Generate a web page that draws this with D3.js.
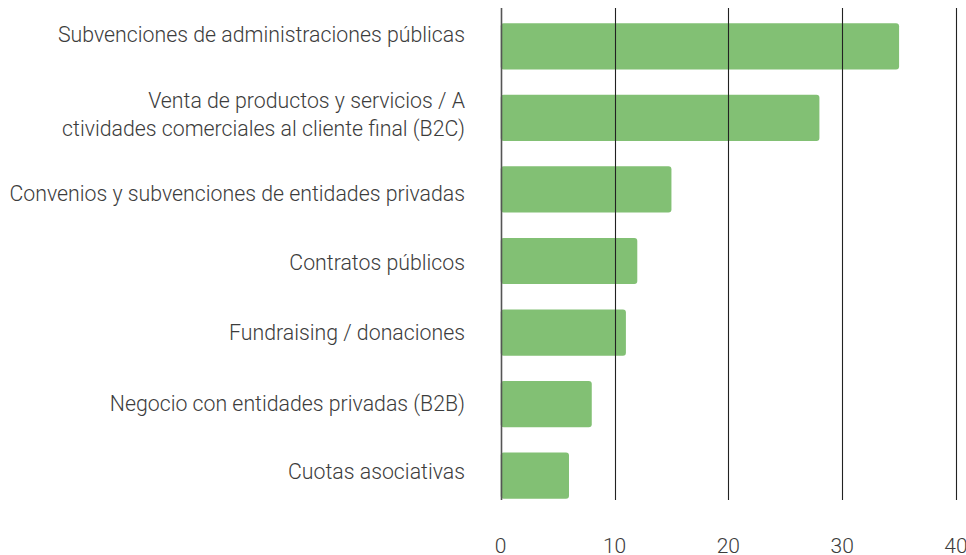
<!DOCTYPE html>
<html>
<head>
<meta charset="utf-8">
<script src="https://cdn.jsdelivr.net/npm/d3@7"></script>
<style>
  body { margin: 0; background: #fff; }
  svg { display: block; }
  .label, .tick-label { font-family: Roboto, sans-serif; font-weight: 300; fill: #3c3c3c; }
</style>
</head>
<body>
<script>
  const categories = [
    ["Subvenciones de administraciones públicas"],
    ["Venta de productos y servicios / A", "ctividades comerciales al cliente final (B2C)"],
    ["Convenios y subvenciones de entidades privadas"],
    ["Contratos públicos"],
    ["Fundraising / donaciones"],
    ["Negocio con entidades privadas (B2B)"],
    ["Cuotas asociativas"]
  ];
  const values = [35, 28, 15, 12, 11, 8, 6];
  const ticks = [0, 10, 20, 30, 40];

  // label nudges (px) so the text sits where the original puts it
  const labelShift = [-12, -3.5, 4.5, 2, 0.5, -1, -4.5];

  var width = 966;
  var height = 555;

  var x = d3.scaleLinear().domain([0, 40]).range([500.7, 956]);
  var y = d3
    .scaleBand()
    .domain(d3.range(categories.length))
    .range([23.3, 498.7])
    .paddingInner(0.354)
    .paddingOuter(0);

  var svg = d3
    .select("body")
    .append("svg")
    .attr("width", width)
    .attr("height", height);

  // bars
  svg
    .selectAll(".bar")
    .data(values)
    .enter()
    .append("rect")
    .attr("class", "bar")
    .attr("x", x(0))
    .attr("y", (d, i) => y(i))
    .attr("width", (d) => x(d) - x(0))
    .attr("height", y.bandwidth())
    .attr("rx", 3)
    .style("fill", "#82c074");

  // gridlines
  svg
    .selectAll(".grid")
    .data(ticks)
    .enter()
    .append("line")
    .attr("class", "grid")
    .attr("x1", (d) => Math.round(x(d)) + 0.5)
    .attr("x2", (d) => Math.round(x(d)) + 0.5)
    .attr("y1", 8)
    .attr("y2", 500)
    .style("stroke", (d) => (d === 0 ? "#555" : "#222"))
    .style("stroke-width", (d) => (d === 0 ? 1.6 : 1.1));

  // tick labels
  svg
    .selectAll(".tick-label")
    .data(ticks)
    .enter()
    .append("text")
    .attr("class", "tick-label")
    .attr("x", (d) => x(d))
    .attr("y", 553)
    .attr("text-anchor", "middle")
    .attr("font-size", "21px")
    .text((d) => d);

  // category labels
  var labels = svg
    .selectAll(".label")
    .data(categories)
    .enter()
    .append("text")
    .attr("class", "label")
    .attr("text-anchor", "end")
    .attr("font-size", "21.3px")
    .attr("x", 465);

  labels
    .selectAll("tspan")
    .data((d, i) => d.map((t, j) => ({ t: t, j: j, n: d.length, i: i })))
    .enter()
    .append("tspan")
    .attr("x", 465)
    .attr("y", (d) => y(d.i) + y.bandwidth() / 2 + labelShift[d.i] + (d.j - (d.n - 1) / 2) * 28)
    .attr("dy", "0.35em")
    .text((d) => d.t);
</script>
</body>
</html>
